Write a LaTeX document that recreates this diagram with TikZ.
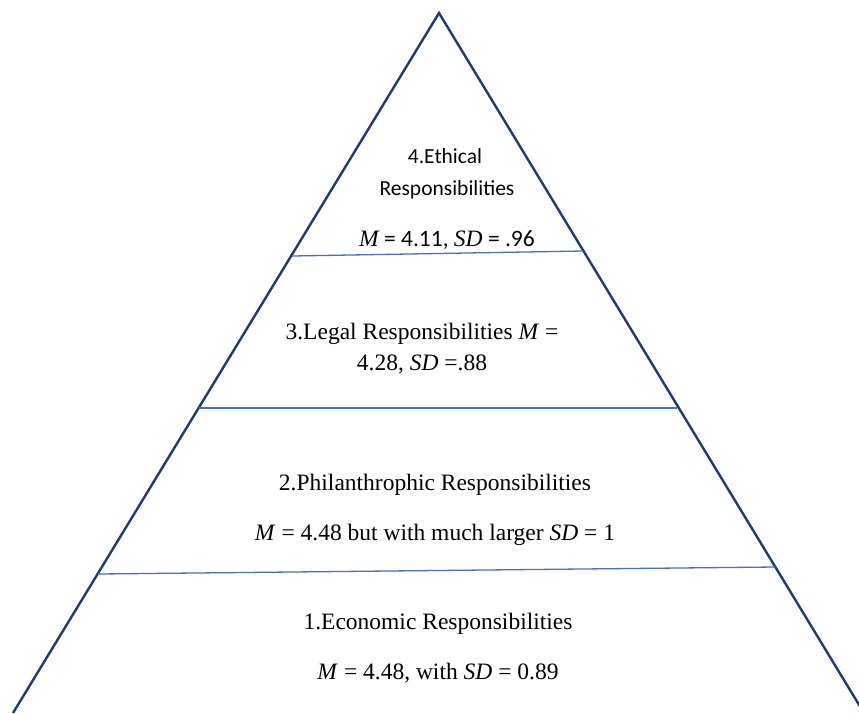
\documentclass[tikz,border=0pt]{standalone}
\usepackage{fontspec}
\setmainfont{Liberation Serif}
\newfontfamily\calibrifont{Carlito}
\usetikzlibrary{positioning}
\usetikzlibrary{calc}
\definecolor{pyrnavy}{HTML}{1F3A6E}
\definecolor{tierblue}{HTML}{4A70B8}
\tikzset{
  pyrside/.style={pyrnavy, line width=2.4pt, line join=miter},
  tierline/.style={tierblue, line width=1.3pt},
  tiertext/.style={font=\fontsize{23.5}{28}\selectfont, inner sep=0pt, anchor=base},
  ethictext/.style={font=\calibrifont\fontsize{21.5}{25}\selectfont, inner sep=0pt, anchor=base}
}

\begin{document}
\begin{tikzpicture}[x=1pt,y=-1pt]
		\useasboundingbox (0,0) rectangle (859,713);
		\clip (0,0) rectangle (859,713);
		\fill[white] (0,0) rectangle (859,713);
		\draw[pyrside] (13,713) -- (439,13) -- (864,713);
		% tier borders
		\draw[tierline] (292,256) -- (583,251);
		\draw[tierline] (199,408) -- (677,408);
		\draw[tierline] (98,574) -- (775,567);
		% 4
		\node[ethictext] (ethicA) at (445,163) {4.Ethical};
		\node[ethictext] (ethicB) at (447,195) {Responsibilities};
		\node[ethictext, font=\calibrifont\fontsize{23.5}{28}\selectfont] (ethicC) at (447,246)
		  {{\rmfamily\itshape M} = 4.11, {\rmfamily\itshape SD} = .96};
		% 3
		\node[tiertext] (legalA) at (422,339) {3.Legal Responsibilities \textit{M} =};
		\node[tiertext] (legalB) at (422,370) {4.28, \textit{SD} =.88};
		% 2
		\node[tiertext] (philA) at (435,490) {2.Philanthrophic Responsibilities};
		\node[tiertext] (philB) at (435,540) {\textit{M} = 4.48 but with much larger \textit{SD} = 1};
		% 1
		\node[tiertext] (econA) at (438,629) {1.Economic Responsibilities};
		\node[tiertext] (econB) at (438,679) {\textit{M} = 4.48, with \textit{SD} = 0.89};
	\end{tikzpicture}
\end{document}
